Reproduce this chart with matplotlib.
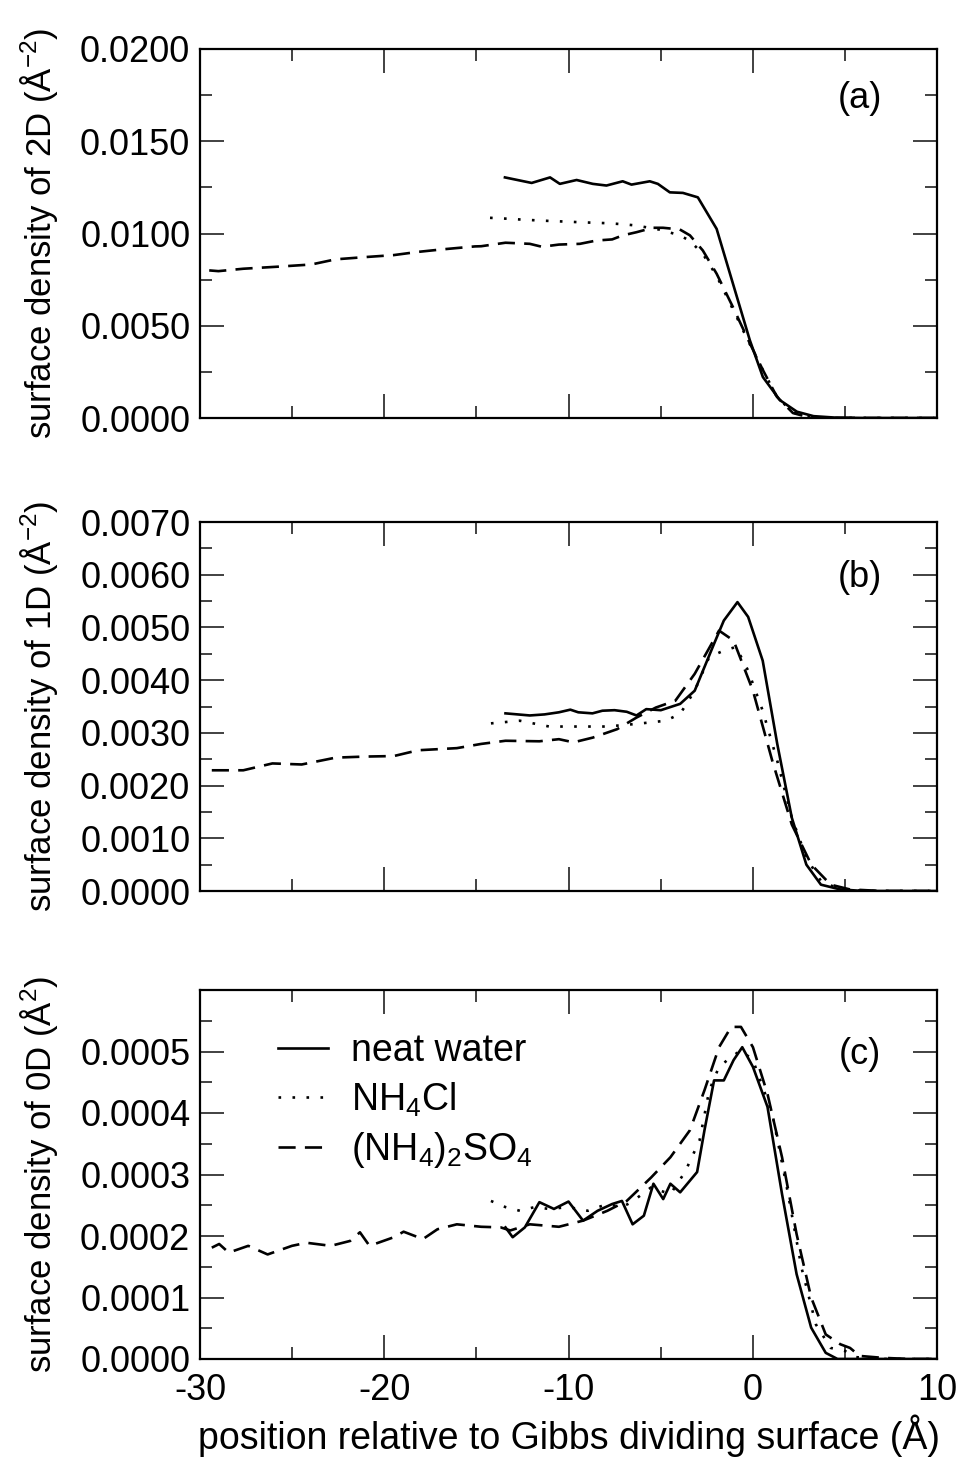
import numpy as np
import matplotlib
matplotlib.use("Agg")
import matplotlib.pyplot as plt
from matplotlib.ticker import MultipleLocator, FixedLocator, FormatStrFormatter

plt.rcParams['font.family'] = ['Liberation Sans', 'DejaVu Sans']
plt.rcParams['mathtext.default'] = 'regular'
plt.rcParams['axes.unicode_minus'] = False
plt.rcParams['font.size'] = 26

# ---- panel (a): 2D surface density ----
a_water_x = [-13.45, -12.0, -11.0, -10.47, -9.56, -8.68, -7.94, -7.06, -6.58, -5.59, -5.15, -4.5,
             -3.79, -2.98, -1.96, -1.08, -0.16, 0.55, 1.47, 2.4, 3.3, 4.5, 6, 8, 10]
a_water_y = [0.01304, 0.01274, 0.01304, 0.01269, 0.0129, 0.01269, 0.0126, 0.01283, 0.01265, 0.01283,
             0.01269, 0.01223, 0.0122, 0.01196, 0.01025, 0.0073, 0.00422, 0.00222, 0.00097, 0.00034,
             0.0001, 0.00002, 0, 0, 0]
a_nh4cl_x = [-14.26, -13.3, -12.64, -11.5, -10.29, -9.1, -7.94, -7.0, -6.31, -5.0, -3.96, -3.41,
             -2.71, -1.96, -1.08, -0.16, 0.55, 1.31, 2.18, 3.0, 4.0, 6, 8, 10]
a_nh4cl_y = [0.01085, 0.0108, 0.01076, 0.0107, 0.01065, 0.0106, 0.01056, 0.0105, 0.01043, 0.0102,
             0.0099, 0.0096, 0.0089, 0.0077, 0.0059, 0.0040, 0.0026, 0.00115, 0.0003, 0.00006,
             0.00001, 0, 0, 0]
a_sulf_x = [-29.5, -29.0, -27.65, -25.8, -23.96, -22.64, -21.06, -19.48, -18.2, -16.85, -15.08,
            -14.74, -13.42, -12.1, -11.44, -10.52, -9.38, -8.48, -7.63, -7.05, -6.31, -5.42, -4.87,
            -3.96, -3.41, -2.71, -1.96, -1.08, -0.16, 0.55, 1.31, 2.18, 3.0, 4.0, 6, 8, 10]
a_sulf_y = [0.0080, 0.00796, 0.00809, 0.0082, 0.00832, 0.0086, 0.00872, 0.00883, 0.0090, 0.00914,
            0.0093, 0.00931, 0.0095, 0.00944, 0.00928, 0.0094, 0.00944, 0.00962, 0.00968, 0.0099,
            0.01007, 0.01031, 0.01031, 0.01022, 0.0099, 0.00908, 0.00782, 0.00602, 0.00405,
            0.0026, 0.00115, 0.00027, 0.00005, 0.00001, 0, 0, 0]

# ---- panel (b): 1D surface density ----
b_water_x = [-13.42, -12.1, -11.3, -10.52, -9.9, -9.47, -8.7, -8.16, -7.5, -6.84, -6.31, -5.78,
             -4.99, -3.94, -3.15, -2.1, -1.57, -0.83, -0.25, 0.54, 1.33, 2.12, 2.91, 3.7, 4.75,
             6, 8, 10]
b_water_y = [0.00337, 0.00333, 0.00335, 0.00339, 0.00344, 0.00339, 0.00337, 0.00342, 0.00343,
             0.0034, 0.00333, 0.00345, 0.00343, 0.00355, 0.0038, 0.00469, 0.00513, 0.00548,
             0.0052, 0.00437, 0.00279, 0.00139, 0.0005, 0.00012, 0.00003, 0, 0, 0]
b_nh4cl_x = [-14.21, -12.64, -11.05, -9.47, -7.89, -6.31, -4.73, -3.94, -3.15, -2.36, -1.57,
             -0.91, -0.25, 0.54, 1.33, 2.12, 2.91, 3.7, 4.6, 6, 8, 10]
b_nh4cl_y = [0.00318, 0.00323, 0.00312, 0.00312, 0.00312, 0.00317, 0.00323, 0.00336, 0.0038,
             0.00444, 0.00456, 0.00463, 0.00418, 0.00342, 0.00247, 0.00139, 0.00063, 0.00019,
             0.00005, 0, 0, 0]
b_sulf_x = [-29.36, -27.65, -26.07, -24.48, -22.64, -21.06, -19.48, -18.16, -16.06, -14.74,
            -13.42, -11.58, -10.52, -9.73, -8.68, -7.36, -6.31, -5.26, -4.2, -3.15, -1.83, -1.04,
            0.01, 1.06, 2.12, 3.18, 4.23, 5.27, 7, 10]
b_sulf_y = [0.00229, 0.00229, 0.00242, 0.0024, 0.00253, 0.00255, 0.00256, 0.00267, 0.00271,
            0.00279, 0.00285, 0.00284, 0.00288, 0.00282, 0.00291, 0.00307, 0.00329, 0.00348,
            0.00361, 0.00412, 0.00494, 0.00475, 0.0038, 0.00247, 0.00126, 0.0005, 0.00012,
            0.00003, 0, 0]

# ---- panel (c): 0D surface density ----
c_water_x = [-13.42, -13.03, -12.37, -11.58, -10.79, -10.0, -9.21, -8.42, -7.63, -7.1, -6.52,
             -5.91, -5.39, -4.86, -4.47, -3.94, -3.02, -2.62, -2.1, -1.57, -1.04, -0.57, 0.01,
             0.8, 1.59, 2.38, 3.17, 3.96, 4.6, 6, 8, 10]
c_water_y = [0.000214, 0.000198, 0.000214, 0.000255, 0.000244, 0.000256, 0.000225, 0.000241,
             0.000252, 0.000257, 0.000219, 0.000233, 0.000285, 0.00026, 0.000285, 0.000271,
             0.000304, 0.000372, 0.000453, 0.000453, 0.000486, 0.000507, 0.000475, 0.00041,
             0.000268, 0.000138, 0.000051, 0.00001, 0, 0, 0, 0]
c_nh4cl_x = [-14.21, -13.42, -12.64, -11.84, -11.05, -10.0, -8.95, -7.89, -7.1, -6.58, -5.52,
             -4.47, -3.68, -2.89, -2.36, -1.83, -1.17, -0.64, 0.01, 1.06, 1.85, 2.65, 3.43, 4.23,
             5.01, 5.6, 7, 10]
c_nh4cl_y = [0.000257, 0.000247, 0.000241, 0.000247, 0.000244, 0.000247, 0.000241, 0.000252,
             0.000247, 0.000255, 0.000279, 0.000268, 0.000304, 0.000355, 0.000437, 0.000475,
             0.000491, 0.000502, 0.000486, 0.000399, 0.000279, 0.000148, 0.000056, 0.000018,
             0.000013, 0.000003, 0, 0]
c_sulf_x = [-29.36, -28.96, -28.44, -27.38, -26.33, -25.01, -24.22, -22.9, -21.85, -21.32, -20.8,
            -19.48, -18.95, -17.9, -17.11, -16.06, -14.74, -13.68, -13.16, -12.1, -10.52, -9.21,
            -7.89, -6.84, -5.52, -4.47, -3.41, -2.62, -1.83, -1.17, -0.64, 0.01, 0.8, 1.59, 2.38,
            3.17, 3.96, 4.75, 5.28, 5.8, 7, 8.5, 10]
c_sulf_y = [0.000181, 0.000187, 0.000173, 0.000184, 0.00017, 0.000184, 0.000189, 0.000184,
            0.000192, 0.000206, 0.000184, 0.000198, 0.000207, 0.000195, 0.000211, 0.000219,
            0.000215, 0.000214, 0.000209, 0.000219, 0.000215, 0.000225, 0.000241, 0.000257,
            0.000295, 0.000328, 0.000372, 0.000437, 0.000507, 0.00054, 0.00054, 0.000507,
            0.000431, 0.000328, 0.000203, 0.0001, 0.00004, 0.000024, 0.000018, 0.000005, 0.000002,
            0, 0]

labels = ['neat water', 'NH$_4$Cl', '(NH$_4$)$_2$SO$_4$']
panel_tags = ['(a)', '(b)', '(c)']
ylabels = ['surface density of 2D (Å$^{-2}$)',
           'surface density of 1D (Å$^{-2}$)',
           'surface density of 0D (Å$^{2}$)']

fig = plt.figure(figsize=(9.67, 14.58), dpi=100)
W, H = 967.0, 1458.0
left, right = 200 / W, 937 / W
tops = [49, 522, 990]
height = 369 / H

axes = []
for top in tops:
    ax = fig.add_axes([left, 1 - top / H - height, right - left, height])
    axes.append(ax)

series = [
    [(a_water_x, a_water_y), (a_nh4cl_x, a_nh4cl_y), (a_sulf_x, a_sulf_y)],
    [(b_water_x, b_water_y), (b_nh4cl_x, b_nh4cl_y), (b_sulf_x, b_sulf_y)],
    [(c_water_x, c_water_y), (c_nh4cl_x, c_nh4cl_y), (c_sulf_x, c_sulf_y)],
]

for ax, data in zip(axes, series):
    (wx, wy), (nx, ny), (sx, sy) = data
    ax.plot(wx, wy, color='black', lw=1.9, label=labels[0])
    ax.plot(nx, ny, color='black', lw=1.9, dashes=(1, 4.3), label=labels[1])
    ax.plot(sx, sy, color='black', lw=1.9, dashes=(6.5, 3.5), label=labels[2])

ylims = [0.02, 0.007, 0.0006]
ymajor = [np.arange(0, 0.02001, 0.005), np.arange(0, 0.00701, 0.001), np.arange(0, 0.00051, 0.0001)]
yminor = [0.0025, 0.0005, 0.00005]
tag_pos = [(0.895, 0.865), (0.895, 0.85), (0.895, 0.825)]

for i, ax in enumerate(axes):
    ax.set_xlim(-30, 10)
    ax.set_ylim(0, ylims[i])
    ax.xaxis.set_major_locator(MultipleLocator(10))
    ax.xaxis.set_minor_locator(MultipleLocator(5))
    ax.yaxis.set_major_locator(FixedLocator(ymajor[i]))
    ax.yaxis.set_minor_locator(MultipleLocator(yminor[i]))
    ax.yaxis.set_major_formatter(FormatStrFormatter('%.4f'))
    ax.tick_params(which='both', direction='in', top=True, right=True, color='#333333')
    ax.tick_params(which='major', length=17, width=1.3, labelsize=26, pad=7)
    ax.tick_params(axis='x', which='major', pad=10)
    ax.tick_params(which='minor', length=8.5, width=1.3)
    for sp in ax.spines.values():
        sp.set_linewidth(1.6)
    if i < 2:
        ax.tick_params(axis='x', labelbottom=False)
    ax.set_ylabel(ylabels[i], fontsize=25)
    ax.yaxis.set_label_coords(-0.19, 0.5)
    ax.text(tag_pos[i][0], tag_pos[i][1], panel_tags[i], transform=ax.transAxes,
            ha='center', va='center', fontsize=26)

axes[2].set_xlabel('position relative to Gibbs dividing surface (Å)', fontsize=27)
axes[2].xaxis.set_label_coords(0.5, -0.15)
axes[2].legend(loc='upper left', bbox_to_anchor=(0.06, 0.975), frameon=False,
               handlelength=1.33, handletextpad=0.62, labelspacing=0.3, fontsize=27)

fig.savefig('out.png', dpi=100)
